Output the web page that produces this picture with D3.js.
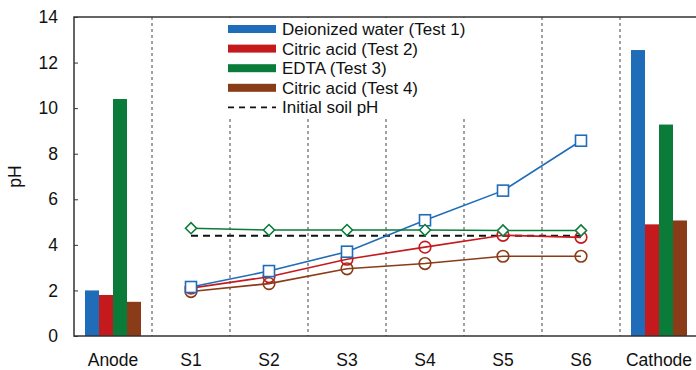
<!DOCTYPE html>
<html>
<head>
<meta charset="utf-8">
<script src="https://cdn.jsdelivr.net/npm/d3@7"></script>
<style>
  body { margin: 0; background: #fff; }
  text { font-family: "Liberation Sans", Arial, sans-serif; fill: #111; }
</style>
</head>
<body>
<svg id="chart"></svg>
<script>
// Données
const categories = ["Anode", "S1", "S2", "S3", "S4", "S5", "S6", "Cathode"];
const sections = ["S1", "S2", "S3", "S4", "S5", "S6"];
const seriesNames = ["Deionized water (Test 1)", "Citric acid (Test 2)", "EDTA (Test 3)", "Citric acid (Test 4)"];
const anodeValues = [2.0, 1.8, 10.4, 1.5];
const cathodeValues = [12.55, 4.9, 9.28, 5.07];
const test1Values = [2.15, 2.85, 3.7, 5.08, 6.38, 8.57];
const test2Values = [2.1, 2.6, 3.37, 3.9, 4.42, 4.33];
const test3Values = [4.73, 4.65, 4.65, 4.65, 4.63, 4.63];
const test4Values = [1.95, 2.3, 2.95, 3.18, 3.5, 3.5];
const initialPH = 4.4;
const yTicks = [0, 2, 4, 6, 8, 10, 12, 14];

const colors = ["#1f6cb8", "#c41a1e", "#0b7b3a", "#8a3b17"];
const markers = ["square", "circle", "diamond", "circle"];

const width = 696, height = 370;
const margin = { top: 17, right: -2, bottom: 34, left: 74 };

const svg = d3.select("#chart").attr("width", width).attr("height", height);

const x = d3.scaleBand().domain(categories).range([margin.left, width - margin.right]);
const y = d3.scaleLinear().domain([0, 14]).range([height - margin.bottom, margin.top]);

// Lignes verticales pointillées entre catégories
const bounds = categories.slice(1).map(c => x(c));
svg.append("g").selectAll("line").data(bounds).join("line")
  .attr("x1", d => d).attr("x2", d => d)
  .attr("y1", y(14)).attr("y2", y(0))
  .attr("stroke", "#444").attr("stroke-width", 1).attr("stroke-dasharray", "3,3");

// Barres anode / cathode
const xBar = d3.scaleBand().domain(seriesNames).range([0, 56]);
function drawBars(cat, vals) {
  const off = x(cat) + (x.bandwidth() - 56) / 2;
  svg.append("g").selectAll("rect").data(vals).join("rect")
    .attr("x", (d, i) => off + xBar(seriesNames[i]))
    .attr("width", xBar.bandwidth())
    .attr("y", d => y(d))
    .attr("height", d => y(0) - y(d))
    .attr("fill", (d, i) => colors[i]);
}
drawBars("Anode", anodeValues);
drawBars("Cathode", cathodeValues);

// pH initial du sol
const cx = s => x(s) + x.bandwidth() / 2;
svg.append("line")
  .attr("x1", cx("S1")).attr("x2", cx("S6"))
  .attr("y1", y(initialPH)).attr("y2", y(initialPH))
  .attr("stroke", "#111").attr("stroke-width", 2).attr("stroke-dasharray", "7,5");

// Séries en lignes
const lineData = [test1Values, test2Values, test3Values, test4Values];
const line = d3.line().x((d, i) => cx(sections[i])).y(d => y(d));
[3, 1, 0, 2].forEach(k => {
  const vals = lineData[k];
  svg.append("path").datum(vals)
    .attr("d", line).attr("fill", "none")
    .attr("stroke", colors[k]).attr("stroke-width", 1.6);
  const g = svg.append("g");
  vals.forEach((v, i) => {
    const px = cx(sections[i]), py = y(v);
    if (markers[k] === "square") {
      g.append("rect").attr("x", px - 5.5).attr("y", py - 5.5).attr("width", 11).attr("height", 11)
        .attr("fill", "#fff").attr("stroke", colors[k]).attr("stroke-width", 1.6);
    } else if (markers[k] === "circle") {
      g.append("circle").attr("cx", px).attr("cy", py).attr("r", 5.8)
        .attr("fill", "none").attr("stroke", colors[k]).attr("stroke-width", 1.6);
    } else {
      g.append("path").attr("d", `M${px - 5.5},${py}L${px},${py - 5.5}L${px + 5.5},${py}L${px},${py + 5.5}Z`)
        .attr("fill", "#fff").attr("stroke", colors[k]).attr("stroke-width", 1.6);
    }
  });
});

// Axes
const yAxis = svg.append("g").attr("transform", `translate(${margin.left},0)`)
  .call(d3.axisLeft(y).tickValues(yTicks).tickSize(-4).tickPadding(16));
yAxis.select(".domain").remove();
yAxis.selectAll("line").attr("stroke", "#333");
yAxis.selectAll("text").attr("font-size", 17.5).attr("fill", "#111")
  .style("font-family", '"Liberation Sans", Arial, sans-serif');

const xAxis = svg.append("g").attr("transform", `translate(0,${y(0)})`)
  .call(d3.axisBottom(x).tickSize(0).tickPadding(18));
xAxis.select(".domain").remove();
xAxis.selectAll("text").attr("font-size", 17.5).attr("fill", "#111")
  .style("font-family", '"Liberation Sans", Arial, sans-serif');

// Cadre
svg.append("path")
  .attr("d", `M${width},${y(14)}H${margin.left}V${y(0)}H${width}`)
  .attr("fill", "none").attr("stroke", "#333").attr("stroke-width", 1.5);

// Titre de l'axe Y
svg.append("text")
  .attr("transform", `translate(21,${(y(0) + y(14)) / 2}) rotate(-90)`)
  .attr("text-anchor", "middle").attr("font-size", 17.5).text("pH");

// Légende
const legend = svg.append("g").attr("transform", "translate(228,29)");
legend.append("rect").attr("x", -6).attr("y", -11).attr("width", 248).attr("height", 99).attr("fill", "#fff");
seriesNames.forEach((name, i) => {
  legend.append("rect").attr("x", 0).attr("y", i * 19.6 - 4).attr("width", 48).attr("height", 8).attr("fill", colors[i]);
  legend.append("text").attr("x", 54).attr("y", i * 19.6).attr("dy", "0.35em")
    .attr("font-size", 17).text(name);
});
legend.append("line").attr("x1", 0).attr("x2", 48).attr("y1", 4 * 19.6).attr("y2", 4 * 19.6)
  .attr("stroke", "#111").attr("stroke-width", 1.6).attr("stroke-dasharray", "6,5");
legend.append("text").attr("x", 54).attr("y", 4 * 19.6).attr("dy", "0.35em")
  .attr("font-size", 17).text("Initial soil pH");
</script>
</body>
</html>
